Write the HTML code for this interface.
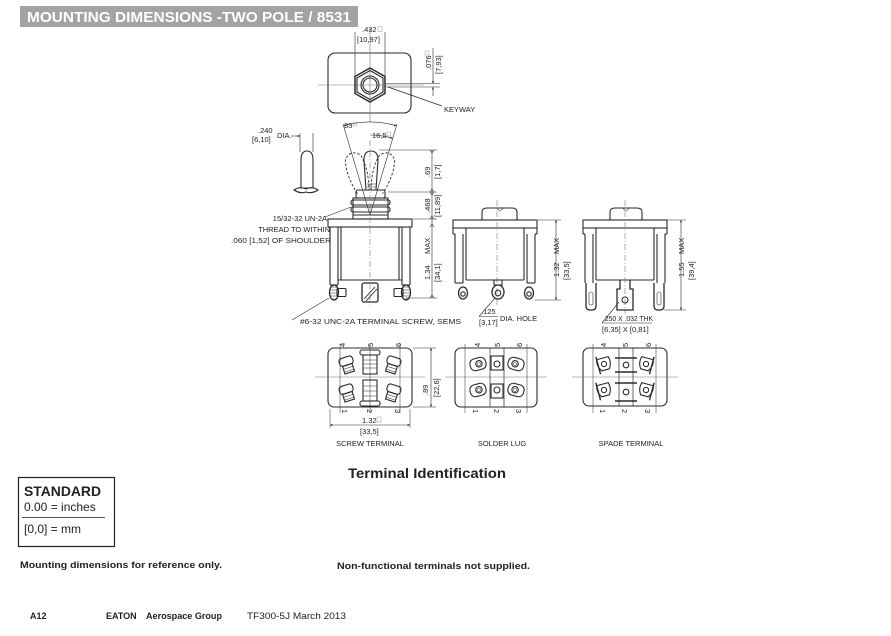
<!DOCTYPE html>
<html><head><meta charset="utf-8"><style>
html,body{margin:0;padding:0;background:#fff;}
svg{display:block}
text{font-family:"Liberation Sans",Arial,sans-serif;fill:#222}
</style></head><body>
<svg width="891" height="636" viewBox="0 0 891 636" xmlns="http://www.w3.org/2000/svg">
<defs>
<marker id="a" viewBox="0 0 6 6" refX="6" refY="3" markerWidth="4" markerHeight="4" orient="auto-start-reverse"><path d="M0,0 L6,3 L0,6z" fill="#333"/></marker>
</defs>

<!-- Title -->
<rect x="20" y="6" width="338" height="21" fill="#a3a3a3"/>
<text x="27" y="22" font-size="15" font-weight="bold" style="fill:#fff" textLength="324" lengthAdjust="spacingAndGlyphs">MOUNTING DIMENSIONS -TWO POLE / 8531</text>

<g stroke="#2a2a2a" stroke-width="1.1" fill="none">
<!-- ===== TOP VIEW ===== -->
<rect x="328" y="53" width="83" height="60" rx="7"/>
<line x1="370" y1="28" x2="370" y2="122" stroke="#777" stroke-width="0.6"/>
<line x1="318" y1="85" x2="424" y2="85" stroke="#777" stroke-width="0.6"/>
<polygon points="370,68 385,76.5 385,93.5 370,102 355,93.5 355,76.5" stroke-width="1.5"/>
<polygon points="370,70.5 383,78 383,92 370,99.5 357,92 357,78"/>
<circle cx="370" cy="85" r="9"/>
<circle cx="370" cy="85" r="7"/>
<line x1="355" y1="32" x2="355" y2="76" stroke-width="0.6"/>
<line x1="385" y1="32" x2="385" y2="76" stroke-width="0.6"/>
<line x1="386" y1="83.5" x2="440" y2="83.5" stroke-width="0.6"/>
<line x1="386" y1="87" x2="440" y2="87" stroke-width="0.6"/>
<line x1="433" y1="48" x2="433" y2="83.5" stroke-width="0.6" marker-end="url(#a)"/>
<line x1="433" y1="96" x2="433" y2="87" stroke-width="0.6" marker-end="url(#a)"/>
<line x1="388" y1="87" x2="442" y2="106" stroke-width="0.7"/>

<!-- ===== SIDE VIEW (SCREW) ===== -->
<path d="M301,188 L301,160 Q301,151 307,151 Q313,151 313,160 L313,188 Z"/>
<path d="M294,190 Q300,186 306,189 Q312,186 318,190 Q312,194 306,192 Q300,194 294,190Z"/>
<line x1="300" y1="133" x2="300" y2="152" stroke-width="0.6"/>
<line x1="313" y1="133" x2="313" y2="152" stroke-width="0.6"/>
<line x1="291" y1="136" x2="300" y2="136" stroke-width="0.6" marker-end="url(#a)"/>
<!-- main lever -->
<path d="M366,190 L364,160 Q364,151 371,151 Q378,151 378,160 L376,190"/>
<path d="M367,184 h9 M367,187 h9" stroke-width="0.5"/>
<g transform="rotate(-16.5 370 215)" stroke-dasharray="2.5 1.8" stroke-width="0.9"><path d="M364,191 Q358,170 362,155 Q370,146 378,155 Q382,170 376,191"/></g>
<g transform="rotate(16.5 370 215)" stroke-dasharray="2.5 1.8" stroke-width="0.9"><path d="M364,191 Q358,170 362,155 Q370,146 378,155 Q382,170 376,191"/></g>
<line x1="370" y1="215" x2="343" y2="124" stroke-width="0.6"/>
<line x1="370" y1="215" x2="397" y2="124" stroke-width="0.6"/>
<path d="M343.6,125.8 A93,93 0 0 1 396.4,125.8" stroke-width="0.6" marker-start="url(#a)" marker-end="url(#a)"/>
<path d="M370,135 A80,80 0 0 1 392.7,138.3" stroke-width="0.6" marker-end="url(#a)"/>
<!-- bushing -->
<rect x="356" y="190" width="29" height="8" rx="2"/>
<rect x="353" y="198" width="35" height="21"/>
<rect x="351" y="200" width="39" height="5" rx="2"/>
<rect x="351" y="207" width="39" height="5" rx="2"/>
<line x1="353" y1="215" x2="388" y2="215"/>
<!-- dim lines right -->
<line x1="379" y1="150" x2="437" y2="150" stroke-width="0.6"/>
<line x1="388" y1="192" x2="437" y2="192" stroke-width="0.6"/>
<line x1="413" y1="219" x2="437" y2="219" stroke-width="0.6"/>
<line x1="406" y1="298" x2="437" y2="298" stroke-width="0.6"/>
<line x1="432" y1="150" x2="432" y2="298" stroke-width="0.6"/>
<path d="M430,150 l2,3 l2,-3 M430,192 l2,-3 l2,3 M430,192 l2,3 l2,-3 M430,219 l2,-3 l2,3 M430,227 l2,-3 l2,3 M430,298 l2,-3 l2,3" stroke-width="0.6"/>
<!-- body -->
<rect x="328" y="219" width="84" height="8"/>
<line x1="330" y1="227" x2="330" y2="285"/>
<line x1="338" y1="227" x2="338" y2="285"/>
<line x1="341" y1="227" x2="341" y2="280"/>
<line x1="410" y1="227" x2="410" y2="285"/>
<line x1="402" y1="227" x2="402" y2="285"/>
<line x1="399" y1="227" x2="399" y2="280"/>
<line x1="338" y1="280" x2="402" y2="280"/>
<line x1="330" y1="285" x2="338" y2="285"/>
<line x1="402" y1="285" x2="410" y2="285"/>
<line x1="370" y1="140" x2="370" y2="306" stroke="#777" stroke-width="0.6" stroke-dasharray="6 2 1 2"/>
<!-- screws -->
<rect x="337" y="288.5" width="9" height="8" rx="1"/>
<ellipse cx="334" cy="292.5" rx="4.5" ry="7.5" stroke-width="1.3"/>
<path d="M331,287 l6,0 M330,290 l8,0 M330,293 l8,0 M330,296 l8,0 M331,299 l6,0" stroke-width="0.6"/>
<rect x="394" y="288.5" width="9" height="8" rx="1"/>
<ellipse cx="406" cy="292.5" rx="4.5" ry="7.5" stroke-width="1.3"/>
<path d="M403,287 l6,0 M402,290 l8,0 M402,293 l8,0 M402,296 l8,0 M403,299 l6,0" stroke-width="0.6"/>
<rect x="362" y="283" width="16" height="19" rx="2" stroke-width="1.3"/>
<path d="M364,299 L375,287 M366,301 L377,289" stroke-width="0.9"/>
<line x1="292" y1="320" x2="329" y2="298" stroke-width="0.6"/>
<line x1="351" y1="207" x2="325" y2="217" stroke-width="0.6"/>

<!-- ===== SIDE VIEW (SOLDER) ===== -->
<path d="M482,220 L482,212 Q482,208 487,208 L512,208 Q517,208 517,212 L517,220"/>
<path d="M497,208 Q500,213 503,208" stroke-width="0.6"/>
<rect x="453" y="220" width="84" height="8"/>
<line x1="453" y1="228" x2="453" y2="234"/>
<line x1="537" y1="228" x2="537" y2="234"/>
<line x1="453" y1="234" x2="455" y2="234"/>
<line x1="535" y1="234" x2="537" y2="234"/>
<line x1="455" y1="234" x2="455" y2="283"/>
<line x1="463" y1="234" x2="463" y2="283"/>
<line x1="466" y1="228" x2="466" y2="280"/>
<line x1="535" y1="234" x2="535" y2="283"/>
<line x1="527" y1="234" x2="527" y2="283"/>
<line x1="524" y1="228" x2="524" y2="280"/>
<line x1="466" y1="280" x2="524" y2="280"/>
<line x1="455" y1="283" x2="463" y2="283"/>
<line x1="527" y1="283" x2="535" y2="283"/>
<line x1="497" y1="200" x2="497" y2="306" stroke="#777" stroke-width="0.6" stroke-dasharray="6 2 1 2"/>
<ellipse cx="463" cy="293" rx="4.5" ry="6" stroke-width="1.3"/><circle cx="463" cy="294" r="2.2"/>
<ellipse cx="498" cy="292" rx="6" ry="7" stroke-width="1.3"/><circle cx="498" cy="293" r="2.8"/>
<rect x="494" y="280" width="8" height="5"/>
<ellipse cx="529" cy="293" rx="4.5" ry="6" stroke-width="1.3"/><circle cx="529" cy="294" r="2.2"/>
<line x1="538" y1="220" x2="561" y2="220" stroke-width="0.6"/>
<line x1="535" y1="300" x2="561" y2="300" stroke-width="0.6"/>
<line x1="556" y1="220" x2="556" y2="300" stroke-width="0.6" marker-start="url(#a)" marker-end="url(#a)"/>
<line x1="479" y1="316.5" x2="498" y2="316.5" stroke-width="0.6"/>
<line x1="479" y1="316.5" x2="495" y2="298" stroke-width="0.6"/>

<!-- ===== SIDE VIEW (SPADE) ===== -->
<path d="M610,220 L610,212 Q610,208 615,208 L637,208 Q642,208 642,212 L642,220"/>
<path d="M623,208 Q626,213 629,208" stroke-width="0.6"/>
<rect x="583" y="220" width="84" height="8"/>
<line x1="583" y1="228" x2="583" y2="234"/>
<line x1="667" y1="228" x2="667" y2="234"/>
<line x1="583" y1="234" x2="585" y2="234"/>
<line x1="665" y1="234" x2="667" y2="234"/>
<line x1="585" y1="234" x2="585" y2="283"/>
<line x1="593" y1="234" x2="593" y2="283"/>
<line x1="596" y1="228" x2="596" y2="280"/>
<line x1="665" y1="234" x2="665" y2="283"/>
<line x1="657" y1="234" x2="657" y2="283"/>
<line x1="654" y1="228" x2="654" y2="280"/>
<line x1="596" y1="280" x2="654" y2="280"/>
<line x1="625" y1="200" x2="625" y2="314" stroke="#777" stroke-width="0.6" stroke-dasharray="6 2 1 2"/>
<path d="M586,283 L586,306 Q586,310 590,310 L592,310 Q596,310 596,306 L596,283" stroke-width="1.3"/>
<rect x="589" y="292" width="4" height="13" rx="2" stroke-width="0.6"/>
<path d="M654,283 L654,306 Q654,310 658,310 L660,310 Q664,310 664,306 L664,283" stroke-width="1.3"/>
<rect x="657" y="292" width="4" height="13" rx="2" stroke-width="0.6"/>
<path d="M620,280 L620,289 L617,289 L617,310 L633,310 L633,289 L630,289 L630,280" stroke-width="1.3"/>
<circle cx="625" cy="300" r="3"/>
<line x1="667" y1="220" x2="686" y2="220" stroke-width="0.6"/>
<line x1="664" y1="310" x2="686" y2="310" stroke-width="0.6"/>
<line x1="681" y1="220" x2="681" y2="310" stroke-width="0.6" marker-start="url(#a)" marker-end="url(#a)"/>
<line x1="602" y1="323" x2="652" y2="323" stroke-width="0.6"/>
<line x1="602" y1="323" x2="619" y2="302" stroke-width="0.6"/>

<!-- ===== BOTTOM VIEW SCREW ===== -->
<rect x="328" y="348" width="84" height="59" rx="6"/>
<line x1="315" y1="377" x2="425" y2="377" stroke="#777" stroke-width="0.6"/>
<line x1="340" y1="344" x2="340" y2="413" stroke-width="0.5"/>
<line x1="400" y1="344" x2="400" y2="413" stroke-width="0.5"/>
<line x1="370" y1="344" x2="370" y2="413" stroke-width="0.5"/>
<g stroke-width="1.1">
<g transform="rotate(-18 347 364)"><rect x="340" y="357" width="14" height="8" rx="3"/><rect x="342" y="365" width="10" height="8"/><path d="M342,368 h10 M342,371 h10" stroke-width="0.5"/></g>
<g transform="rotate(18 393 364)"><rect x="386" y="357" width="14" height="8" rx="3"/><rect x="388" y="365" width="10" height="8"/><path d="M388,368 h10 M388,371 h10" stroke-width="0.5"/></g>
<g transform="rotate(-18 347 392)"><rect x="340" y="385" width="14" height="8" rx="3"/><rect x="342" y="393" width="10" height="8"/><path d="M342,396 h10 M342,399 h10" stroke-width="0.5"/></g>
<g transform="rotate(18 393 392)"><rect x="386" y="385" width="14" height="8" rx="3"/><rect x="388" y="393" width="10" height="8"/><path d="M388,396 h10 M388,399 h10" stroke-width="0.5"/></g>
<rect x="360" y="350" width="20" height="5" rx="2"/>
<rect x="363" y="355" width="14" height="19"/>
<path d="M363,360 h14 M363,364 h14 M363,368 h14" stroke-width="0.5"/>
<rect x="360" y="401" width="20" height="5" rx="2"/>
<rect x="363" y="380" width="14" height="21"/>
<path d="M363,386 h14 M363,391 h14 M363,396 h14" stroke-width="0.5"/>
</g>
<line x1="413" y1="348" x2="436" y2="348" stroke-width="0.5"/>
<line x1="413" y1="407" x2="436" y2="407" stroke-width="0.5"/>
<line x1="431" y1="348" x2="431" y2="407" stroke-width="0.6" marker-start="url(#a)" marker-end="url(#a)"/>
<line x1="330" y1="409" x2="330" y2="428" stroke-width="0.5"/>
<line x1="410" y1="409" x2="410" y2="428" stroke-width="0.5"/>
<line x1="330" y1="425" x2="410" y2="425" stroke-width="0.6" marker-start="url(#a)" marker-end="url(#a)"/>

<!-- ===== BOTTOM VIEW SOLDER ===== -->
<rect x="455" y="348" width="82" height="59" rx="6"/>
<line x1="445" y1="377" x2="547" y2="377" stroke="#777" stroke-width="0.6"/>
<line x1="465" y1="344" x2="465" y2="413" stroke-width="0.5"/>
<line x1="527" y1="344" x2="527" y2="413" stroke-width="0.5"/>
<line x1="490" y1="348" x2="490" y2="407" stroke-width="0.7"/>
<line x1="504" y1="348" x2="504" y2="407" stroke-width="0.7"/>
<g stroke-width="1.1">
<g transform="rotate(-15 478 364)"><rect x="470" y="358" width="16" height="12" rx="5"/><circle cx="479" cy="364" r="3.2"/><circle cx="479" cy="364" r="1.6" stroke-width="0.5"/></g>
<g transform="rotate(15 516 364)"><rect x="508" y="358" width="16" height="12" rx="5"/><circle cx="515" cy="364" r="3.2"/><circle cx="515" cy="364" r="1.6" stroke-width="0.5"/></g>
<g transform="rotate(-15 478 390)"><rect x="470" y="384" width="16" height="12" rx="5"/><circle cx="479" cy="390" r="3.2"/><circle cx="479" cy="390" r="1.6" stroke-width="0.5"/></g>
<g transform="rotate(15 516 390)"><rect x="508" y="384" width="16" height="12" rx="5"/><circle cx="515" cy="390" r="3.2"/><circle cx="515" cy="390" r="1.6" stroke-width="0.5"/></g>
<rect x="491" y="356" width="12" height="14"/><circle cx="497" cy="364" r="3"/>
<rect x="491" y="384" width="12" height="14"/><circle cx="497" cy="390" r="3"/>
</g>

<!-- ===== BOTTOM VIEW SPADE ===== -->
<rect x="583" y="348" width="84" height="58" rx="6"/>
<line x1="572" y1="377" x2="678" y2="377" stroke="#777" stroke-width="0.6"/>
<line x1="593" y1="344" x2="593" y2="413" stroke-width="0.5"/>
<line x1="656" y1="344" x2="656" y2="413" stroke-width="0.5"/>
<line x1="619" y1="348" x2="619" y2="406" stroke-width="0.7"/>
<line x1="633" y1="348" x2="633" y2="406" stroke-width="0.7"/>
<g stroke-width="1.1">
<g transform="rotate(-15 604 364)"><path d="M598,358 L610,358 Q612,364 608,370 L600,370 Q596,364 598,358Z"/><circle cx="604" cy="364" r="2.6"/><line x1="598" y1="355" x2="598" y2="373" stroke-width="1.4"/></g>
<g transform="rotate(15 646 364)"><path d="M640,358 L652,358 Q654,364 650,370 L642,370 Q638,364 640,358Z"/><circle cx="646" cy="364" r="2.6"/><line x1="652" y1="355" x2="652" y2="373" stroke-width="1.4"/></g>
<g transform="rotate(-15 604 390)"><path d="M598,384 L610,384 Q612,390 608,396 L600,396 Q596,390 598,384Z"/><circle cx="604" cy="390" r="2.6"/><line x1="598" y1="381" x2="598" y2="399" stroke-width="1.4"/></g>
<g transform="rotate(15 646 390)"><path d="M640,384 L652,384 Q654,390 650,396 L642,396 Q638,390 640,384Z"/><circle cx="646" cy="390" r="2.6"/><line x1="652" y1="381" x2="652" y2="399" stroke-width="1.4"/></g>
<line x1="615" y1="358" x2="637" y2="358" stroke-width="1.4"/>
<line x1="615" y1="372" x2="637" y2="372" stroke-width="1.4"/>
<line x1="615" y1="383" x2="637" y2="383" stroke-width="1.4"/>
<line x1="615" y1="401" x2="637" y2="401" stroke-width="1.4"/>
<circle cx="626" cy="365" r="2.8"/>
<circle cx="626" cy="392" r="2.8"/>
</g>
</g>

<!-- ===== TEXT LABELS ===== -->
<g font-size="7.5">
<text x="362" y="32">.432</text><rect x="378" y="26.5" width="4" height="5" fill="none" stroke="#999" stroke-width="0.5"/>
<text x="357" y="42">[10,97]</text>
<text transform="translate(431,70) rotate(-90)">.076</text>
<rect x="425" y="51" width="4" height="4" fill="none" stroke="#999" stroke-width="0.5"/>
<text transform="translate(441,74) rotate(-90)">[7,93]</text>
<text x="444" y="112">KEYWAY</text>

<text x="258" y="133">.240</text>
<text x="252" y="142">[6,10]</text>
<text x="277" y="138">DIA.</text>
<text x="344" y="128">33</text><rect x="353" y="122" width="3.5" height="4" fill="none" stroke="#999" stroke-width="0.5"/>
<text x="372" y="138">16,5</text><rect x="387" y="132" width="3.5" height="4" fill="none" stroke="#999" stroke-width="0.5"/>

<text transform="translate(430,177) rotate(-90)">.69</text>
<text transform="translate(440,179) rotate(-90)">[1,7]</text>
<text transform="translate(430,213) rotate(-90)">.468</text>
<text transform="translate(440,217) rotate(-90)">[11,89]</text>
<text transform="translate(430,254) rotate(-90)">MAX</text>
<text transform="translate(430,280) rotate(-90)">1.34</text>
<text transform="translate(440,282) rotate(-90)">[34,1]</text>

<text x="327" y="221" text-anchor="end">15/32-32 UN-2A</text>
<text x="330" y="232" text-anchor="end">THREAD TO WITHIN</text>
<text x="331" y="243" text-anchor="end" textLength="100" lengthAdjust="spacingAndGlyphs">.060 [1,52] OF SHOULDER</text>
<text x="300" y="324" textLength="161" lengthAdjust="spacingAndGlyphs">#6-32 UNC-2A TERMINAL SCREW, SEMS</text>

<text transform="translate(559,277) rotate(-90)">1.32</text>
<text transform="translate(559,254) rotate(-90)">MAX</text>
<text transform="translate(569,280) rotate(-90)">[33,5]</text>
<text x="481" y="314">.125</text>
<text x="479" y="325">[3,17]</text>
<text x="500" y="321">DIA. HOLE</text>

<text transform="translate(684,277) rotate(-90)">1.55</text>
<text transform="translate(684,254) rotate(-90)">MAX</text>
<text transform="translate(694,280) rotate(-90)">[39,4]</text>
<text x="603" y="321" textLength="50" lengthAdjust="spacingAndGlyphs">.250 X .032 THK</text>
<text x="602" y="332">[6,35] X [0,81]</text>

<text transform="translate(345,347) rotate(-90)">4</text>
<text transform="translate(373,347) rotate(-90)">5</text>
<text transform="translate(401,347) rotate(-90)">6</text>
<text transform="translate(342,409) rotate(90)">1</text>
<text transform="translate(367,409) rotate(90)">2</text>
<text transform="translate(395,409) rotate(90)">3</text>
<text transform="translate(480,347) rotate(-90)">4</text>
<text transform="translate(500,347) rotate(-90)">5</text>
<text transform="translate(522,347) rotate(-90)">6</text>
<text transform="translate(473,409) rotate(90)">1</text>
<text transform="translate(494,409) rotate(90)">2</text>
<text transform="translate(516,409) rotate(90)">3</text>
<text transform="translate(606,347) rotate(-90)">4</text>
<text transform="translate(628,347) rotate(-90)">5</text>
<text transform="translate(651,347) rotate(-90)">6</text>
<text transform="translate(600,409) rotate(90)">1</text>
<text transform="translate(622,409) rotate(90)">2</text>
<text transform="translate(645,409) rotate(90)">3</text>

<text transform="translate(428,395) rotate(-90)">.89</text>
<text transform="translate(439,397) rotate(-90)">[22,6]</text>
<text x="362" y="423">1.32</text><rect x="377" y="417" width="4" height="5" fill="none" stroke="#999" stroke-width="0.5"/>
<text x="360" y="434">[33,5]</text>
<text x="370" y="446" text-anchor="middle">SCREW TERMINAL</text>
<text x="502" y="446" text-anchor="middle">SOLDER LUG</text>
<text x="631" y="446" text-anchor="middle">SPADE TERMINAL</text>
</g>

<text x="348" y="478" font-size="14" font-weight="bold" textLength="158" lengthAdjust="spacingAndGlyphs">Terminal Identification</text>

<rect x="18.5" y="477.5" width="96" height="69" fill="none" stroke="#222" stroke-width="1.2"/>
<text x="24" y="496" font-size="14" font-weight="bold" textLength="77" lengthAdjust="spacingAndGlyphs">STANDARD</text>
<text x="24" y="511" font-size="12">0.00 = inches</text>
<line x1="22" y1="517.5" x2="105" y2="517.5" stroke="#555" stroke-width="1"/>
<text x="24" y="533" font-size="12">[0,0] = mm</text>

<text x="20" y="568" font-size="9" font-weight="bold" textLength="202" lengthAdjust="spacingAndGlyphs">Mounting dimensions for reference only.</text>
<text x="337" y="569" font-size="9" font-weight="bold" textLength="193" lengthAdjust="spacingAndGlyphs">Non-functional terminals not supplied.</text>

<text x="30" y="619" font-size="9" font-weight="bold">A12</text>
<text x="106" y="619" font-size="9" font-weight="bold">EATON</text>
<text x="146" y="619" font-size="9" font-weight="bold" textLength="76" lengthAdjust="spacingAndGlyphs">Aerospace Group</text>
<text x="247" y="619" font-size="9" textLength="99" lengthAdjust="spacingAndGlyphs">TF300-5J  March 2013</text>
</svg>
</body></html>
